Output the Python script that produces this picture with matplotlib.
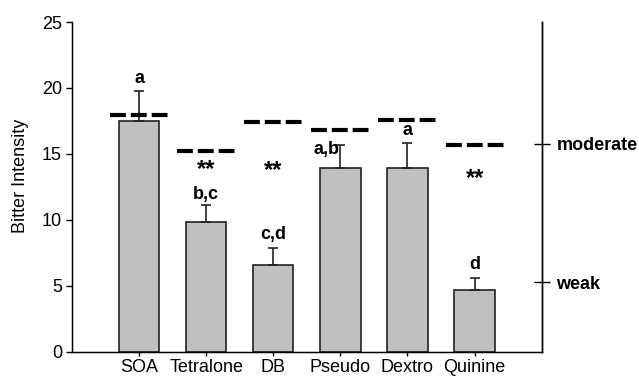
import numpy as np
import matplotlib
matplotlib.use("Agg")
import matplotlib.pyplot as plt

plt.rcParams["font.family"] = ["Liberation Sans", "DejaVu Sans"]

# Bar means, upper error bars, reference (dashed) levels and letter groups.
compounds = ["SOA", "Tetralone", "DB", "Pseudo", "Dextro", "Quinine"]
means = [17.5, 9.8, 6.6, 13.9, 13.95, 4.7]
errors = [2.3, 1.3, 1.25, 1.8, 1.85, 0.9]
reference = [17.95, 15.2, 17.4, 16.8, 17.6, 15.7]
letters = ["a", "b,c", "c,d", "a,b", "a", "d"]
letter_y = [20.7, 11.9, 8.85, 15.3, 16.75, 6.6]
letter_dx = [0, 0, 0, -0.2, 0, 0]
star_y = [None, 13.8, 13.75, None, None, 13.1]
scale_ticks = [5.27, 15.77]
scale_labels = ["weak", "moderate"]

x = np.arange(1, len(compounds) + 1)

fig = plt.figure(figsize=(6.39, 3.77), dpi=100)
ax = fig.add_axes([0.1127, 0.0671, 0.735, 0.8745])

ax.bar(x, means, width=0.6, color="#c0c0c0", edgecolor="#222222",
       linewidth=1.2, zorder=2)
ax.errorbar(x, means, yerr=[np.zeros(len(errors)), errors], fmt="none",
            ecolor="#222222", elinewidth=1.2, capsize=3.6, capthick=1.2,
            zorder=3)
ax.hlines(reference, x - 0.433, x + 0.433, colors="black", linewidth=3,
          linestyles=(0, (3.8, 1.2)), zorder=4)

for xi, lab, ly, dx in zip(x, letters, letter_y, letter_dx):
    ax.text(xi + dx, ly, lab, ha="center", va="center", fontsize=13,
            fontweight="bold")
for xi, sy in zip(x, star_y):
    if sy is not None:
        ax.text(xi, sy, "**", ha="center", va="center", fontsize=17,
                fontweight="bold")

ax.set_xlim(0, 7)
ax.set_ylim(0, 25)
ax.set_xticks(x)
ax.set_xticklabels(compounds, fontsize=13)
ax.set_yticks([0, 5, 10, 15, 20, 25])
ax.tick_params(axis="y", labelsize=13, direction="out", length=4.3, width=1,
               pad=3)
ax.tick_params(axis="x", direction="out", length=3, width=1, pad=2)
ax.set_ylabel("Bitter Intensity", fontsize=13)
ax.yaxis.set_label_coords(-0.092, 0.532)
ax.spines["top"].set_visible(False)
for s in ("left", "bottom", "right"):
    ax.spines[s].set_linewidth(1)

ax2 = ax.twinx()
ax2.set_ylim(0, 25)
ax2.set_yticks(scale_ticks)
ax2.set_yticklabels(scale_labels, fontsize=13, fontweight="bold")
ax2.tick_params(axis="y", direction="inout", length=12, width=1, pad=4.5)
ax2.spines["top"].set_visible(False)
ax2.spines["right"].set_linewidth(1)

fig.savefig("out.png", dpi=100)
